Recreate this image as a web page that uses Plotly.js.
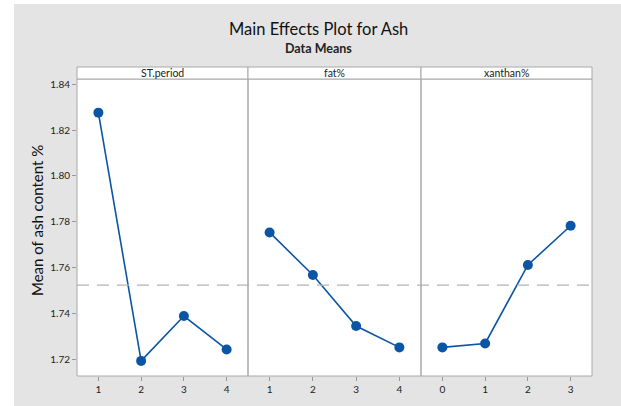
<!DOCTYPE html>
<html>
<head>
<meta charset="utf-8">
<script src="https://cdn.plot.ly/plotly-3.0.1.min.js"></script>
<style>html,body{margin:0;padding:0;background:#fff}#chart{width:621px;height:406px}</style>
</head>
<body>
<div id="chart"></div>
<script>
// ---- data ----
const factors = ["ST.period", "fat%", "xanthan%"];
const stLevels = [1, 2, 3, 4];
const stMeans = [1.8276, 1.7192, 1.7388, 1.7242];
const fatLevels = [1, 2, 3, 4];
const fatMeans = [1.7753, 1.7567, 1.7344, 1.7251];
const xanLevels = [0, 1, 2, 3];
const xanMeans = [1.7251, 1.7268, 1.7611, 1.7782];
const grandMean = 1.7523;
const yTicks = [1.72, 1.74, 1.76, 1.78, 1.80, 1.82, 1.84];

// ---- geometry (pixels) ----
const W = 621, H = 406;
const L = 77, R = 29, T = 79, B = 30;
const pw = W - L - R, ph = H - T - B;
const px = v => (v - L) / pw;          // pixel x -> paper
const py = v => (H - B - v) / ph;      // pixel y -> paper
const d1 = px(248), d2 = px(421);
const domains = [[0, d1], [d1, d2], [d2, 1]];

const blue = "#0b55a5";
const font = "Lato, 'Open Sans', sans-serif";
const levelSets = [stLevels, fatLevels, xanLevels];
const meanSets = [stMeans, fatMeans, xanMeans];

const traces = levelSets.map((lv, i) => ({
  x: lv, y: meanSets[i], type: "scatter", mode: "lines+markers",
  xaxis: i === 0 ? "x" : "x" + (i + 1), yaxis: "y",
  line: {color: blue, width: 1.6},
  marker: {color: blue, size: 10},
  hoverinfo: "skip", showlegend: false
}));

function xa(i) {
  const lv = levelSets[i];
  return {
    domain: domains[i], anchor: "y",
    range: [lv[0] - 0.5, lv[lv.length - 1] + 0.5],
    tickvals: lv, ticktext: lv.map(String),
    ticks: "outside", ticklen: 4, tickcolor: "#999", tickwidth: 1,
    showgrid: false, zeroline: false, showline: false,
    tickfont: {family: font, size: 10, color: "#222"},
    fixedrange: true
  };
}

const shapes = [];
// white margins outside the grey figure area
shapes.push({type: "rect", xref: "paper", yref: "paper", x0: px(0), x1: px(14), y0: py(H), y1: py(0),
  fillcolor: "#ffffff", line: {width: 0}, layer: "below"});
shapes.push({type: "rect", xref: "paper", yref: "paper", x0: px(0), x1: px(W), y0: py(4), y1: py(0),
  fillcolor: "#ffffff", line: {width: 0}, layer: "below"});
// mean line
shapes.push({type: "line", xref: "paper", yref: "y", x0: 0, x1: 1, y0: grandMean, y1: grandMean,
  line: {color: "#b4b4b4", width: 1.3, dash: "12px,8px"}});
// panel borders + strips
domains.forEach(d => {
  shapes.push({type: "rect", xref: "paper", yref: "paper", x0: d[0], x1: d[1], y0: 0, y1: 1,
    line: {color: "#a8a8a8", width: 1}, fillcolor: "rgba(0,0,0,0)"});
  shapes.push({type: "rect", xref: "paper", yref: "paper", x0: d[0], x1: d[1], y0: 1, y1: py(67),
    line: {color: "#a8a8a8", width: 1}, fillcolor: "#ffffff"});
});

const annotations = factors.map((f, i) => ({
  text: f, xref: "paper", yref: "paper", x: (domains[i][0] + domains[i][1]) / 2, y: py(73),
  showarrow: false, xanchor: "center", yanchor: "middle",
  font: {family: font, size: 10.5, color: "#222"}
}));
annotations.push({text: "Main Effects Plot for Ash", xref: "paper", yref: "paper",
  x: px(318), y: py(29.5), showarrow: false, xanchor: "center", yanchor: "middle", borderpad: 0,
  font: {family: font, size: 16.5, color: "#111"}});
annotations.push({text: "<b>Data Means</b>", xref: "paper", yref: "paper",
  x: px(318), y: py(48.5), showarrow: false, xanchor: "center", yanchor: "middle", borderpad: 0,
  font: {family: font, size: 12.5, color: "#222"}});
annotations.push({text: "Mean of ash content %", xref: "paper", yref: "paper",
  x: px(37), y: py(221), showarrow: false, xanchor: "center", yanchor: "middle", textangle: -90,
  font: {family: font, size: 15, color: "#111"}});

const layout = {
  width: W, height: H,
  margin: {l: L, r: R, t: T, b: B, pad: 0},
  paper_bgcolor: "#e4e4e4", plot_bgcolor: "#ffffff",
  showlegend: false,
  xaxis: xa(0), xaxis2: xa(1), xaxis3: xa(2),
  yaxis: {
    domain: [0, 1], anchor: "x",
    range: [1.7126, 1.8423],
    tickvals: yTicks, ticktext: yTicks.map(v => v.toFixed(2)),
    ticks: "outside", ticklen: 4, tickcolor: "#999",
    showgrid: false, zeroline: false, showline: false,
    tickfont: {family: font, size: 10, color: "#222"},
    fixedrange: true
  },
  shapes: shapes,
  annotations: annotations
};

Plotly.newPlot("chart", traces, layout, {displayModeBar: false, staticPlot: true});
</script>
</body>
</html>
